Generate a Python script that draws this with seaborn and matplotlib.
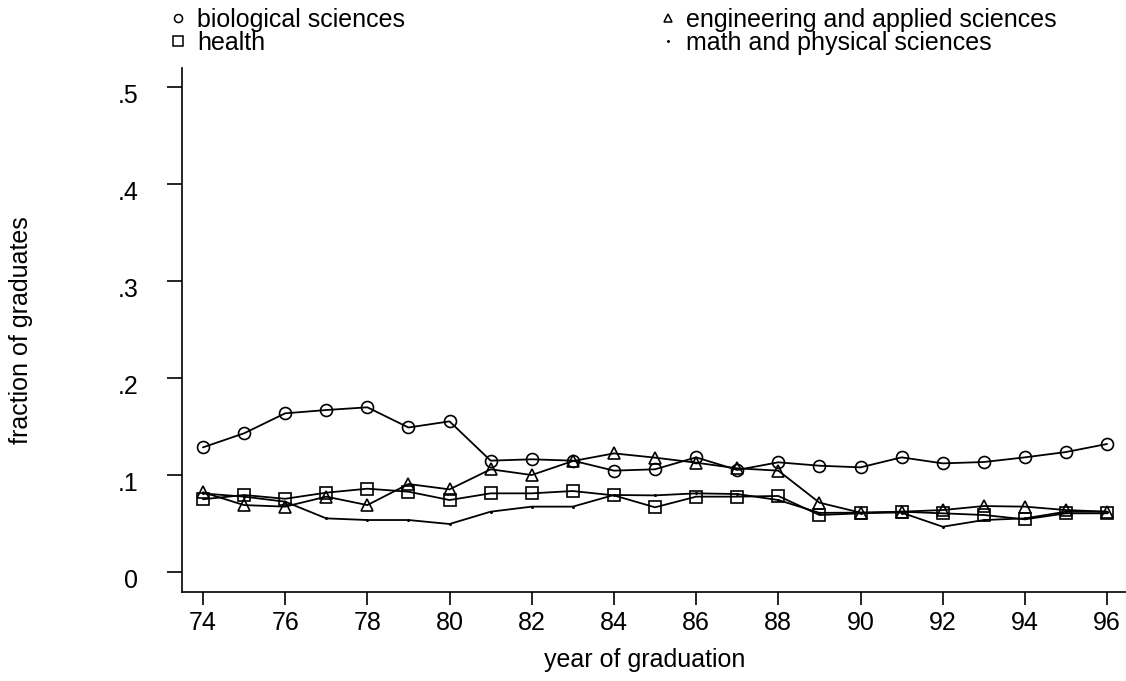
import matplotlib
matplotlib.use("Agg")
import matplotlib.pyplot as plt
from matplotlib.lines import Line2D
from matplotlib.transforms import ScaledTranslation
import numpy as np
import pandas as pd
import seaborn as sns

# graduation years (two-digit)
years = list(range(74, 97))

biological = [0.1285, 0.143, 0.1636, 0.167, 0.1698, 0.149, 0.1553, 0.1148,
              0.1162, 0.1148, 0.1045, 0.1059, 0.1182, 0.1052, 0.1131,
              0.1096, 0.1079, 0.1182, 0.112, 0.1134, 0.1182, 0.1237, 0.132]
health = [0.075, 0.0794, 0.0755, 0.0818, 0.0859, 0.0828, 0.0742, 0.0811,
          0.0811, 0.0835, 0.079, 0.0667, 0.0777, 0.0777, 0.0784,
          0.0588, 0.0605, 0.0622, 0.0605, 0.0588, 0.0543, 0.0605, 0.0605]
engineering = [0.0822, 0.069, 0.0674, 0.0777, 0.069, 0.0907, 0.0852, 0.1059,
               0.100, 0.1144, 0.1223, 0.1179, 0.1127, 0.1069, 0.1045,
               0.0715, 0.0612, 0.0622, 0.0639, 0.068, 0.0674, 0.0639, 0.0622]
math_phys = [0.081, 0.0777, 0.0725, 0.0553, 0.0536, 0.0536, 0.0495, 0.0622,
             0.0674, 0.0674, 0.0794, 0.079, 0.0811, 0.0804, 0.0742,
             0.061, 0.0612, 0.0612, 0.0467, 0.0536, 0.0553, 0.0622, 0.0622]

field_names = ["biological sciences", "health",
               "engineering and applied sciences", "math and physical sciences"]

y_ticks = [0, 0.1, 0.2, 0.3, 0.4, 0.5]
y_tick_labels = ["0", ".1", ".2", ".3", ".4", ".5"]
x_ticks = list(range(74, 97, 2))
x_tick_labels = [str(t) for t in x_ticks]

df = pd.DataFrame({
    "year": years * 4,
    "fraction": biological + health + engineering + math_phys,
    "field": sum([[name] * len(years) for name in field_names], []),
})

sns.set_style("white")
plt.rcParams["font.family"] = ["Liberation Sans", "DejaVu Sans"]
plt.rcParams["font.size"] = 18
plt.rcParams["text.color"] = "black"
plt.rcParams["axes.labelcolor"] = "black"
plt.rcParams["xtick.color"] = "black"
plt.rcParams["ytick.color"] = "black"

fig = plt.figure(figsize=(11.26, 6.81), dpi=100)
ax = fig.add_axes([182 / 1126, 1 - 592 / 681, 1 - 182 / 1126, (592 - 68) / 681])

marker_styles = {
    "biological sciences": ("o", 8.6),
    "health": ("s", 8.0),
    "engineering and applied sciences": ("^", 8.6),
    "math and physical sciences": (".", 2.0),
}

for name in field_names:
    mk, ms = marker_styles[name]
    sub = df[df["field"] == name]
    sns.lineplot(data=sub, x="year", y="fraction", ax=ax, color="black",
                 linewidth=1.3, marker=mk, markersize=ms,
                 markerfacecolor="none", markeredgecolor="black",
                 markeredgewidth=1.2, legend=False, errorbar=None)

ax.set_xlim(73.49, 96.46)
ax.set_ylim(-0.0206, 0.5196)
ax.set_xticks(x_ticks)
ax.set_xticklabels(x_tick_labels)
ax.set_yticks(y_ticks)
ax.set_yticklabels(y_tick_labels)

for side in ["top", "right"]:
    ax.spines[side].set_visible(False)
for side in ["left", "bottom"]:
    ax.spines[side].set_linewidth(1.2)
    ax.spines[side].set_color("black")

ax.tick_params(axis="x", direction="out", length=9.4, width=1.2, pad=4,
               labelsize=18, bottom=True, colors="black", labelcolor="black")
ax.tick_params(axis="y", direction="out", length=10.5, width=1.2, pad=21,
               labelsize=18, left=True, colors="black", labelcolor="black")

# nudge the y tick labels slightly below their ticks
for lab in ax.get_yticklabels():
    lab.set_transform(lab.get_transform() + ScaledTranslation(0, -6 / 100, fig.dpi_scale_trans))

ax.set_xlabel("year of graduation", fontsize=18, color="black")
ax.set_ylabel("fraction of graduates", fontsize=18, color="black")
ax.xaxis.set_label_coords(0.4905, -0.107)
ax.xaxis.label.set_va("top")
ax.yaxis.set_label_coords(-0.158, 0.5)

legend_markers = {
    "biological sciences": ("o", 5.8),
    "health": ("s", 7.0),
    "engineering and applied sciences": ("^", 6.0),
    "math and physical sciences": (".", 2.0),
}
handles = [Line2D([], [], linestyle="none", marker=legend_markers[n][0],
                  markersize=legend_markers[n][1], markerfacecolor="none",
                  markeredgecolor="black", markeredgewidth=1.1, color="black")
           for n in field_names]
leg = fig.legend(handles, field_names, loc="upper left",
                 bbox_to_anchor=(173 / 1126, 1 - 8 / 681), ncol=2, frameon=False,
                 fontsize=18, handlelength=0.4, handletextpad=0.56,
                 columnspacing=10.3, labelspacing=-0.05, borderpad=0,
                 borderaxespad=0)
for t in leg.get_texts():
    t.set_color("black")

fig.savefig("out.png", dpi=100, facecolor="white")
